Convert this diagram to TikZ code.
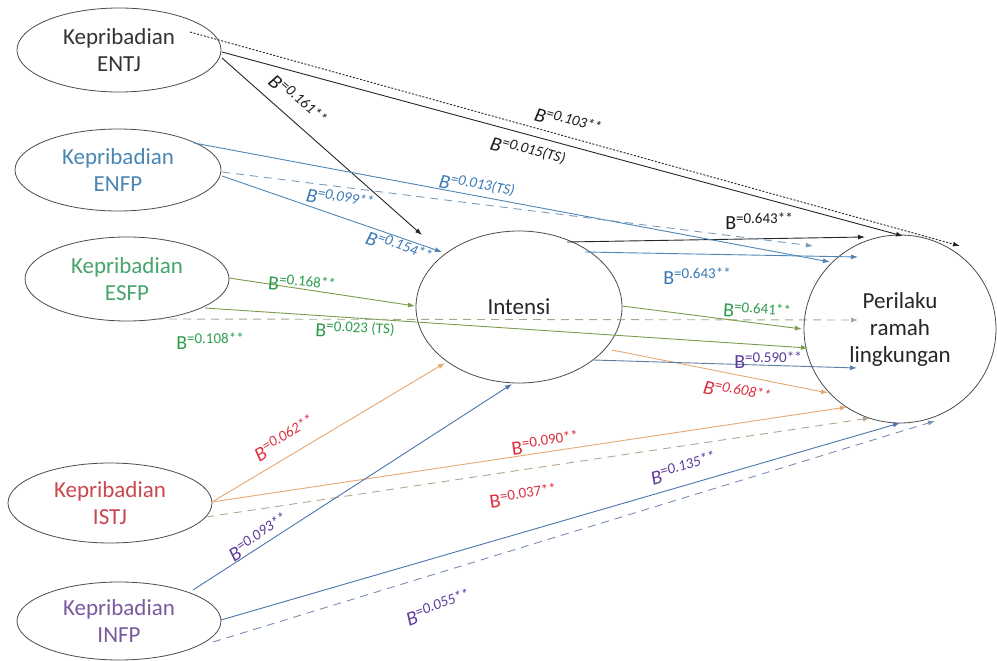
\documentclass[tikz,border=0pt]{standalone}
\usepackage{fontspec}
\setmainfont{Carlito}
\usetikzlibrary{arrows.meta,calc,shapes.geometric}

% text colours
\definecolor{tENTJ}{HTML}{333333}
\definecolor{tENFP}{HTML}{4A86B4}
\definecolor{tESFP}{HTML}{46A56C}
\definecolor{tISTJ}{HTML}{C8484E}
\definecolor{tINFP}{HTML}{7A5A9E}
% coefficient label colours
\definecolor{kBlk}{HTML}{1A1A1A}
\definecolor{kBlu}{HTML}{3A78B4}
\definecolor{kGrn}{HTML}{2E9E4E}
\definecolor{kRed}{HTML}{DC3040}
\definecolor{kPur}{HTML}{5E3A9C}
% line colours
\definecolor{lBlk}{HTML}{262626}
\definecolor{lBlu}{HTML}{4F86B6}
\definecolor{lBluD}{HTML}{7E9CBC}
\definecolor{lGrn}{HTML}{7C9C4C}
\definecolor{lGrnD}{HTML}{A0AC8E}
\definecolor{lOrg}{HTML}{E6A870}
\definecolor{lOrgD}{HTML}{B8A48E}
\definecolor{lInf}{HTML}{4A76AE}
\definecolor{lInfD}{HTML}{7A8EB2}
\definecolor{lPur}{HTML}{5C7EA4}

\newcommand{\coefB}[1]{B\raisebox{0.3em}{\fontsize{15}{15}\selectfont #1}}

\tikzset{
  persona/.style={draw=black!70, line width=0.8pt, ellipse, inner sep=0pt,
    outer sep=0pt, align=center, font=\fontsize{23}{27}\selectfont},
  link/.style={line width=0.9pt, -{Latex[length=7pt,width=5pt]}},
  dsh/.style={dash pattern=on 8pt off 6pt},
  dts/.style={dash pattern=on 2pt off 1.6pt},
  coef/.style={inner sep=0pt, font=\fontsize{20}{20}\selectfont},
  coefit/.style={inner sep=0pt, font=\fontsize{20}{20}\selectfont\itshape},
}

\begin{document}
\begin{tikzpicture}[x=1pt,y=-1pt]
\useasboundingbox (0,0) rectangle (997,661);
\fill[white] (0,0) rectangle (997,661);

% constructs
\node[persona, minimum width=204pt, minimum height=84pt, text=tENTJ] (entj) at (119,50) {Kepribadian\\ENTJ};
\node[persona, minimum width=206pt, minimum height=82pt, text=tENFP] (enfp) at (118,170) {Kepribadian\\ENFP};
\node[persona, minimum width=204pt, minimum height=84pt, text=tESFP] (esfp) at (127,279) {Kepribadian\\ESFP};
\node[persona, minimum width=204pt, minimum height=80pt, text=tISTJ] (istj) at (110,503) {Kepribadian\\ISTJ};
\node[persona, minimum width=204pt, minimum height=78pt, text=tINFP] (infp) at (119,621) {Kepribadian\\INFP};
\node[persona, minimum width=206pt, minimum height=152pt, text=black!85] (intensi) at (519,307) {Intensi};
\node[persona, minimum width=192pt, minimum height=188pt, text=black!85] (perilaku) at (900,329) {Perilaku\\ramah\\lingkungan};

% ENTJ paths
\draw[link, lBlk] ($(entj)+(103,8)$) -- ($(intensi)+(-97,-72)$);
\draw[link, lBlk, dts] ($(entj)+(71,-18)$) -- ($(perilaku)+(60,-83)$);
\draw[link, lBlk] ($(entj)+(103,2)$) -- ($(perilaku)+(3,-93)$);
\draw[link, lBlk] ($(intensi)+(48,-65)$) -- ($(perilaku)+(-35,-92)$);

% ENFP paths
\draw[link, lBlu] ($(enfp)+(76,-27)$) -- ($(perilaku)+(-70,-67)$);
\draw[link, lBluD, dsh] ($(enfp)+(104,2)$) -- ($(perilaku)+(-87,-83)$);
\draw[link, lBlu] ($(enfp)+(104,6)$) -- ($(intensi)+(-77,-55)$);
\draw[link, lBlu] ($(intensi)+(66,-55)$) -- ($(perilaku)+(-42,-72)$);

% ESFP paths
\draw[link, lGrn] ($(esfp)+(102,-1)$) -- ($(intensi)+(-104,-1)$);
\draw[link, lGrn] ($(esfp)+(78,29)$) -- ($(perilaku)+(-92,19)$);
\draw[link, lGrnD, dsh] ($(esfp)+(28,40)$) -- ($(perilaku)+(-42,-9)$);
\draw[link, lGrn] ($(intensi)+(103,-1)$) -- ($(perilaku)+(-98,0)$);

% ISTJ paths
\draw[link, lOrg] ($(istj)+(102,-1)$) -- ($(intensi)+(-74,56)$);
\draw[link, lOrg] ($(istj)+(102,-1)$) -- ($(perilaku)+(-53,78)$);
\draw[link, lOrgD, dsh] ($(istj)+(96,14)$) -- ($(perilaku)+(-30,89)$);
\draw[link, lOrg] ($(intensi)+(93,43)$) -- ($(perilaku)+(-72,64)$);

% INFP paths
\draw[link, lInf] ($(infp)+(74,-31)$) -- ($(intensi)+(-7,77)$);
\draw[link, lInf] ($(infp)+(102,-1)$) -- ($(perilaku)+(0,94)$);
\draw[link, lInfD, dsh] ($(infp)+(94,21)$) -- ($(perilaku)+(35,92)$);
\draw[link, lPur] ($(intensi)+(74,53)$) -- ($(perilaku)+(-43,39)$);

% coefficients
\node[coefit, text=kBlk, rotate=-41.5] (c1) at (298,100) {\coefB{=0.161**}};
\node[coefit, text=kBlk, rotate=-15.5] (c2) at (568,121) {\coefB{=0.103**}};
\node[coefit, text=kBlk, rotate=-15] (c3) at (528,151) {\coefB{=0.015(TS)}};
\node[coef, text=kBlk] (c4) at (759,221) {\coefB{=0.643**}};

\node[coefit, text=kBlu, rotate=-11] (c5) at (477,186) {\coefB{=0.013(TS)}};
\node[coefit, text=kBlu, rotate=-10] (c6) at (340,199) {\coefB{=0,099**}};
\node[coefit, text=kBlu, rotate=-20] (c7) at (399,247) {\coefB{=0.154**}};
\node[coef, text=kBlu] (c8) at (697,276) {\coefB{=0.643**}};

\node[coef, text=kGrn, rotate=-5] (c9) at (302,284) {\coefB{=0.168**}};
\node[coef, text=kGrn, rotate=-3] (c10) at (355,330) {\coefB{=0.023 (TS)}};
\node[coef, text=kGrn] (c11) at (210,341) {\coefB{=0.108**}};
\node[coef, text=kGrn, rotate=-4] (c12) at (757,311) {\coefB{=0.641**}};

\node[coefit, text=kRed, rotate=31] (c13) at (284,438) {\coefB{=0.062**}};
\node[coef, text=kRed, rotate=8] (c14) at (545,443) {\coefB{=0.090**}};
\node[coef, text=kRed, rotate=8] (c15) at (523,496) {\coefB{=0.037**}};
\node[coefit, text=kRed, rotate=-11] (c16) at (737,392) {\coefB{=0.608**}};

\node[coefit, text=kPur, rotate=33] (c17) at (258,537) {\coefB{=0.093**}};
\node[coefit, text=kPur, rotate=16.5] (c18) at (683,468) {\coefB{=0.135**}};
\node[coefit, text=kPur, rotate=20] (c19) at (438,607) {\coefB{=0.055**}};
\node[coef, text=kPur] (c20) at (768,360) {\coefB{=0.590**}};
\end{tikzpicture}
\end{document}
